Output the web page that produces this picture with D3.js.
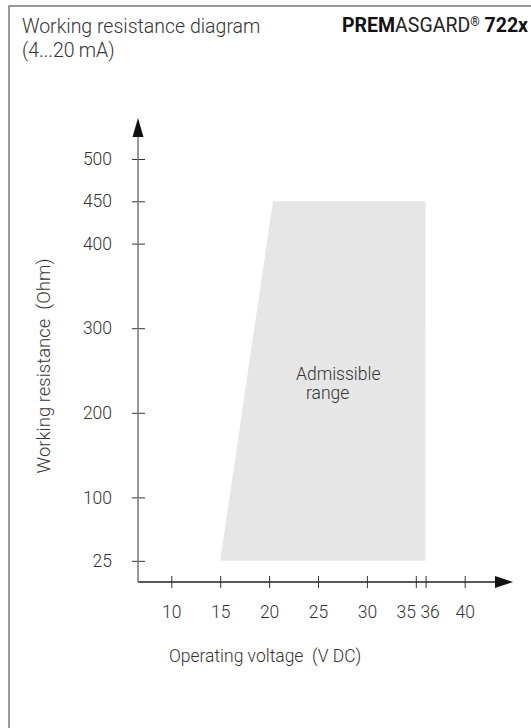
<!DOCTYPE html>
<html>
<head>
<meta charset="utf-8">
<script src="https://cdn.jsdelivr.net/npm/d3@7"></script>
<style>
body { margin: 0; background: #fff; }
svg { display: block; font-family: Roboto, "Noto Sans", sans-serif; font-weight: 300; }
text { white-space: pre; }
</style>
</head>
<body>
<svg width="531" height="728"></svg>
<script>
'use strict';

var voltTicks = [10, 15, 20, 25, 30, 35, 36, 40];
var ohmTicks = [25, 100, 200, 300, 400, 450, 500];
// admissible range polygon (V DC, Ohm)
var rangeVolt = [15, 20.4, 36, 36];
var rangeOhm = [25, 450, 450, 25];

var svg = d3.select('svg');

var x = d3.scaleLinear().domain([10, 40]).range([171.3, 464.7]);
var y = d3.scaleLinear().domain([0, 500]).range([582, 159]);
var x0 = 138; // y axis position
var fs = 17.5;

// frame
svg.append('rect')
	.attr('x', 9).attr('y', 6)
	.attr('width', 600).attr('height', 800)
	.attr('fill', 'none')
	.attr('stroke', '#777')
	.attr('stroke-width', 1.5);

// header
svg.append('text')
	.attr('x', 22).attr('y', 33)
	.attr('font-size', 19.5).attr('fill', '#333')
	.text('Working resistance diagram');
svg.append('text')
	.attr('x', 22).attr('y', 57)
	.attr('font-size', 19.5).attr('fill', '#333')
	.text('(4...20\u2009mA)');

var brand = svg.append('text')
	.attr('x', 528).attr('y', 32)
	.attr('text-anchor', 'end')
	.attr('font-size', 19.5).attr('fill', '#111');
brand.append('tspan').attr('font-weight', 'bold').text('PREM');
brand.append('tspan').attr('fill', '#222').attr('font-weight', 400).text('ASGARD');
brand.append('tspan').attr('font-size', 12).attr('font-weight', 400).attr('dy', -6).text('\u00ae');
brand.append('tspan').attr('dy', 6).attr('font-weight', 'bold').text(' 722x');

// admissible range
var poly = rangeVolt.map(function(v, i){ return [x(v), y(rangeOhm[i])]; });
svg.append('path')
	.attr('d', d3.line()(poly) + 'Z')
	.attr('fill', '#e6e6e6');

svg.append('text')
	.attr('x', 296).attr('y', 380)
	.attr('font-size', fs).attr('fill', '#333')
	.text('Admissible');
svg.append('text')
	.attr('x', 306).attr('y', 399)
	.attr('font-size', fs).attr('fill', '#333')
	.text('range');

// x axis
var xAxis = svg.append('g')
	.attr('transform', 'translate(0,' + y(0) + ')')
	.call(d3.axisBottom(x).tickValues(voltTicks).tickSize(6).tickPadding(18));
xAxis.select('.domain').remove();
xAxis.selectAll('.tick line').attr('y1', -6).attr('stroke', '#333');
xAxis.selectAll('.tick text')
	.attr('font-size', fs).attr('font-family', 'Roboto, sans-serif').attr('fill', '#333')
	.attr('dx', function(d){ return d == 35 ? -10 : d == 36 ? 4 : 0; });

svg.append('line')
	.attr('x1', x0).attr('x2', 496)
	.attr('y1', y(0)).attr('y2', y(0))
	.attr('stroke', '#222').attr('stroke-width', 1.3);
svg.append('path')
	.attr('d', 'M495,' + (y(0) - 6) + 'L513,' + y(0) + 'L495,' + (y(0) + 6) + 'Z')
	.attr('fill', '#111');

// y axis
var yAxis = svg.append('g')
	.attr('transform', 'translate(' + x0 + ',0)')
	.call(d3.axisLeft(y).tickValues(ohmTicks).tickSize(6).tickPadding(20));
yAxis.select('.domain').remove();
yAxis.selectAll('.tick line').attr('x1', 7).attr('stroke', '#333');
yAxis.selectAll('.tick text')
	.attr('font-size', fs).attr('font-family', 'Roboto, sans-serif').attr('fill', '#333');

svg.append('line')
	.attr('x1', x0).attr('x2', x0)
	.attr('y1', y(0)).attr('y2', 136)
	.attr('stroke', '#777').attr('stroke-width', 1.5);
svg.append('path')
	.attr('d', 'M' + (x0 - 5.5) + ',137L' + x0 + ',118L' + (x0 + 5.5) + ',137Z')
	.attr('fill', '#111');

// axis titles
svg.append('text')
	.attr('x', 265).attr('y', 662)
	.attr('text-anchor', 'middle')
	.attr('font-size', fs).attr('fill', '#333')
	.text('Operating voltage  (V DC)');
svg.append('text')
	.attr('transform', 'translate(50,366) rotate(-90)')
	.attr('text-anchor', 'middle')
	.attr('font-size', 18.5).attr('fill', '#333')
	.text('Working resistance  (Ohm)');
</script>
</body>
</html>
